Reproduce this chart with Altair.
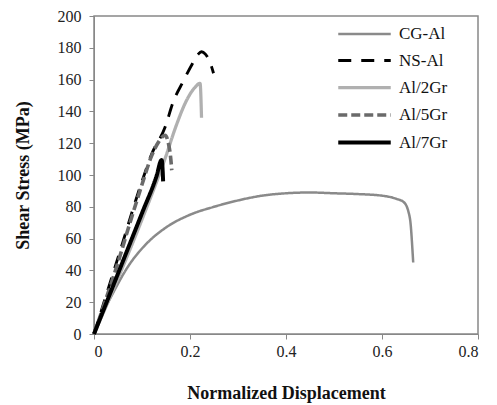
import altair as alt
import pandas as pd

series = ["CG-Al", "NS-Al", "Al/2Gr", "Al/5Gr", "Al/7Gr"]
colors = ["#8a8a8a", "#000000", "#b0b0b0", "#6a6a6a", "#000000"]
dashes = [[1, 0], [13, 10], [1, 0], [9, 4], [1, 0]]
widths = [2.5, 4.0, 2.0, 3.5, 2.5]

cg_x = [0, 0.02, 0.04, 0.07, 0.11, 0.15, 0.2, 0.25, 0.3, 0.35, 0.4, 0.45, 0.5, 0.55, 0.6, 0.63, 0.645, 0.655, 0.66, 0.663, 0.665]
cg_y = [0, 14, 26, 42, 57, 67, 75, 80, 84, 87, 88.5, 89, 88.5, 88, 87, 85, 83, 77, 68, 55, 45]

ns_x = [0, 0.05, 0.1, 0.12, 0.148, 0.165, 0.186, 0.205, 0.217, 0.224, 0.232, 0.24, 0.245, 0.249]
ns_y = [0, 48, 96, 113, 130, 146, 159, 170, 176, 177.5, 176, 172, 168, 164]

g2_x = [0, 0.05, 0.1, 0.15, 0.17, 0.193, 0.21, 0.221, 0.224]
g2_y = [0, 35, 72, 112, 130, 147, 155, 157.6, 136]

g5_x = [0, 0.025, 0.05, 0.075, 0.1, 0.12, 0.135, 0.148, 0.155, 0.16, 0.162]
g5_y = [0, 22, 45, 70, 94, 112, 121, 125, 120, 110, 103]

g7_x = [0, 0.05, 0.1, 0.13, 0.141, 0.143, 0.144]
g7_y = [0, 38, 76, 99, 109.5, 103, 96]

rows = []
for name, xs, ys in zip(series, [cg_x, ns_x, g2_x, g5_x, g7_x], [cg_y, ns_y, g2_y, g5_y, g7_y]):
    for i, (a, b) in enumerate(zip(xs, ys)):
        rows.append({"s": name, "x": a, "y": b, "i": i})
df = pd.DataFrame(rows)

serif = "Liberation Serif"

leg = dict(title=None, orient="none", legendX=258, legendY=6, padding=0,
           symbolType="M-2.5,0H2.5", symbolSize=441, symbolStrokeWidth=3.5,
           labelFont=serif, labelFontSize=17, labelColor="#111",
           rowPadding=6.5, labelOffset=22)

chart = alt.Chart(df).mark_line(interpolate="monotone").encode(
    x=alt.X("x:Q", scale=alt.Scale(domain=[0, 0.8], nice=False),
            axis=alt.Axis(title="Normalized Displacement", values=[0, 0.2, 0.4, 0.6, 0.8],
                          format="~g", titlePadding=25)),
    y=alt.Y("y:Q", scale=alt.Scale(domain=[0, 200], nice=False),
            axis=alt.Axis(title="Shear  Stress (MPa)", values=list(range(0, 201, 20)),
                          titlePadding=25, labelPadding=8)),
    color=alt.Color("s:N", scale=alt.Scale(domain=series, range=colors), legend=alt.Legend(**leg)),
    strokeDash=alt.StrokeDash("s:N", scale=alt.Scale(domain=series, range=dashes), legend=alt.Legend(**leg)),
    strokeWidth=alt.StrokeWidth("s:N", scale=alt.Scale(domain=series, range=widths), legend=None),
    order="i:Q",
).properties(
    width=384, height=318,
    autosize=alt.AutoSizeParams(type="none"),
    padding={"left": 86, "top": 8, "right": 11, "bottom": 70},
).configure_axis(
    labelFont=serif, titleFont=serif, labelFontSize=16, titleFontSize=18,
    labelColor="#222", titleColor="#111", titleFontWeight="bold",
    domainColor="#888", tickColor="#888", grid=False, tickSize=5, labelPadding=4,
).configure_view(stroke="#888", strokeWidth=1.5)

chart.save("out.html", embed_options={"renderer": "svg", "actions": False})
